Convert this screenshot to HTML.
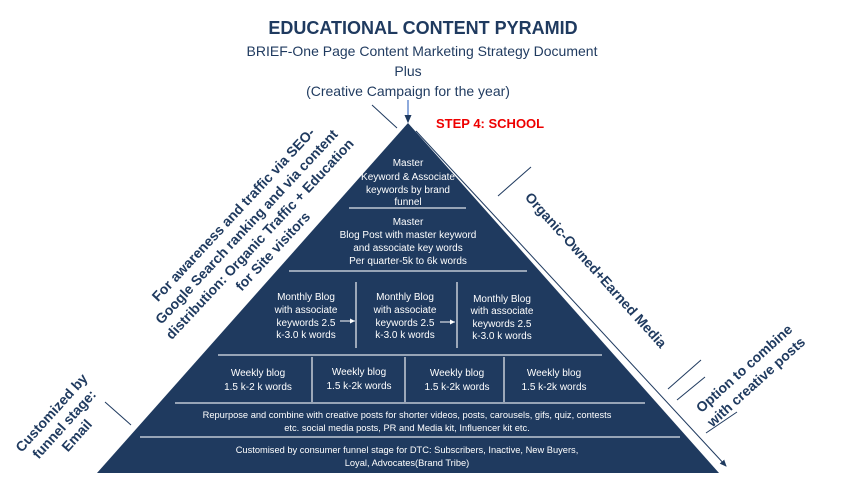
<!DOCTYPE html>
<html><head><meta charset="utf-8"><style>
html,body{margin:0;padding:0;background:#fff;}
svg{display:block;font-family:"Liberation Sans",sans-serif;}
.w{fill:#fff;font-size:10px;text-anchor:middle;}
.d{fill:#1f3a5f;font-weight:bold;}
</style></head><body>
<svg width="846" height="479" viewBox="0 0 846 479">
<defs><marker id="ah" markerWidth="8" markerHeight="8" refX="6" refY="4" orient="auto"><path d="M0,1 L7,4 L0,7 z" fill="#1f3a5f"/></marker>
<marker id="ahw" markerWidth="6" markerHeight="6" refX="5" refY="3" orient="auto"><path d="M0,0.5 L5,3 L0,5.5 z" fill="#fff"/></marker></defs>
<text x="423" y="34" text-anchor="middle" font-size="18" font-weight="bold" fill="#1f3a5f">EDUCATIONAL CONTENT PYRAMID</text>
<g fill="#1f3a5f" font-size="14" text-anchor="middle">
<text x="422" y="56">BRIEF-One Page Content Marketing Strategy  Document</text>
<text x="408" y="76">Plus</text>
<text x="408" y="96">(Creative Campaign for the year)</text>
</g>
<line x1="408" y1="100" x2="408" y2="122" stroke="#4472c4" stroke-width="1.2" marker-end="url(#ah)"/>
<text x="436" y="128" font-size="13" font-weight="bold" fill="#e00">STEP 4: SCHOOL</text>
<polygon points="408,123 97,473 719,473" fill="#1f3a5f"/>
<g stroke="#dfe3ea" stroke-width="1.3">
<line x1="349" y1="208" x2="466" y2="208"/>
<line x1="289" y1="271" x2="527" y2="271"/>
<line x1="218" y1="355" x2="602" y2="355"/>
<line x1="175" y1="403" x2="645" y2="403"/>
<line x1="140" y1="437" x2="680" y2="437"/>
<line x1="356" y1="282" x2="356" y2="348"/>
<line x1="457" y1="282" x2="457" y2="348"/>
<line x1="312" y1="357" x2="312" y2="402"/>
<line x1="405" y1="357" x2="405" y2="402"/>
<line x1="504" y1="357" x2="504" y2="402"/>
</g>
<g class="w">
<text x="408" y="166">Master</text>
<text x="408" y="180">Keyword &amp; Associate</text>
<text x="408" y="193">keywords by brand</text>
<text x="408" y="205">funnel</text>
<text x="408" y="225">Master</text>
<text x="408" y="238">Blog Post with master keyword</text>
<text x="408" y="251">and associate key words</text>
<text x="408" y="264">Per quarter-5k to 6k words</text>
<text x="306" y="300">Monthly Blog</text><text x="306" y="313">with associate</text><text x="306" y="326">keywords 2.5</text><text x="306" y="338">k-3.0 k words</text>
<text x="405" y="300">Monthly Blog</text><text x="405" y="313">with associate</text><text x="405" y="326">keywords 2.5</text><text x="405" y="338">k-3.0 k words</text>
<text x="502" y="302">Monthly Blog</text><text x="502" y="314">with associate</text><text x="502" y="327">keywords 2.5</text><text x="502" y="339">k-3.0 k words</text>
<text x="258" y="376">Weekly blog</text><text x="258" y="390">1.5 k-2 k words</text>
<text x="359" y="375">Weekly blog</text><text x="359" y="389">1.5 k-2k words</text>
<text x="457" y="376">Weekly blog</text><text x="457" y="390">1.5 k-2k words</text>
<text x="554" y="376">Weekly blog</text><text x="554" y="390">1.5 k-2k words</text>
<text x="407" y="418" font-size="9.3">Repurpose and combine with creative posts for shorter videos, posts, carousels, gifs, quiz, contests</text>
<text x="407" y="431" font-size="9.3">etc. social media posts, PR and Media kit, Influencer kit etc.</text>
<text x="407" y="453" font-size="9.3">Customised by consumer funnel stage for DTC: Subscribers, Inactive, New Buyers,</text>
<text x="407" y="466" font-size="9.3">Loyal, Advocates(Brand Tribe)</text>
</g>
<g stroke="#fff" stroke-width="1">
<line x1="340" y1="321" x2="355" y2="321" marker-end="url(#ahw)"/>
<line x1="440" y1="322" x2="455" y2="322" marker-end="url(#ahw)"/>
</g>
<g stroke="#1f3a5f" stroke-width="1">
<line x1="416" y1="131" x2="726" y2="466" marker-end="url(#ah)"/>
<line x1="372" y1="105" x2="397" y2="128"/>
<line x1="498" y1="196" x2="531" y2="167"/>
<line x1="668" y1="389" x2="701" y2="360"/>
<line x1="677" y1="400" x2="705" y2="377"/>
<line x1="706" y1="433" x2="737" y2="412"/>
<line x1="105" y1="402" x2="131" y2="425"/>
</g>
<g class="d" font-size="14" text-anchor="middle">
<g transform="translate(250,230) rotate(-47)">
<text x="0" y="-18">For awareness and traffic via SEO-</text>
<text x="0" y="0">Google Search ranking and via content</text>
<text x="0" y="18">distribution: Organic Traffic + Education</text>
<text x="0" y="36">for Site visitors</text>
</g>
<g transform="translate(596,270) rotate(48)"><text x="0" y="5">Organic-Owned+Earned Media</text></g>
<g transform="translate(750,375) rotate(-42)"><text x="0" y="-4">Option to combine</text><text x="0" y="14">with creative posts</text></g>
<g transform="translate(64,424) rotate(-48)"><text x="0" y="-12">Customized by</text><text x="0" y="5">funnel stage:</text><text x="0" y="22">Email</text></g>
</g>
</svg>
</body></html>
